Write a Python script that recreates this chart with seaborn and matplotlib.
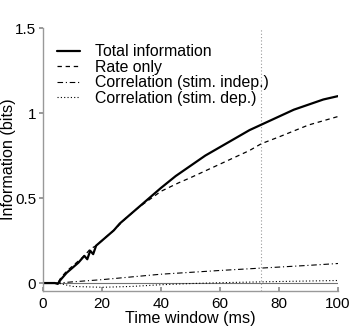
import numpy as np
import pandas as pd
import matplotlib
matplotlib.use("Agg")
import matplotlib.pyplot as plt
import seaborn as sns

# Data
time_total = [0, 2, 4, 5, 6, 8, 10, 12, 14, 15, 16, 17, 18, 20, 22, 24, 26, 28, 30, 32, 34, 36, 38, 40,
              45, 50, 55, 60, 65, 70, 75, 80, 85, 90, 95, 100]
total_info = [0, 0, 0, -0.005, 0.02, 0.06, 0.09, 0.12, 0.16, 0.14, 0.19, 0.17, 0.22, 0.25, 0.28, 0.31,
              0.35, 0.38, 0.41, 0.44, 0.47, 0.50, 0.53, 0.56, 0.63, 0.69, 0.75, 0.80, 0.85, 0.90, 0.94,
              0.98, 1.02, 1.05, 1.08, 1.10]

time_rate = [0, 2, 4, 5, 6, 8, 10, 12, 14, 16, 18, 20, 24, 28, 32, 36, 40, 46, 50, 60, 70, 74, 80, 90, 100]
rate_only = [0, 0, 0, 0.0, 0.03, 0.07, 0.10, 0.13, 0.16, 0.20, 0.22, 0.25, 0.31, 0.38, 0.44, 0.49,
             0.54, 0.59, 0.62, 0.70, 0.78, 0.82, 0.86, 0.93, 0.98]

time_corr = [0, 2, 4, 5, 10, 20, 30, 40, 50, 60, 74, 80, 90, 100]
corr_indep = [0, 0, 0, 0.0, 0.007, 0.02, 0.036, 0.052, 0.063, 0.074, 0.088, 0.094, 0.104, 0.115]
corr_dep = [0, 0, 0, 0.0, -0.02, -0.025, -0.02, -0.01, -0.003, 0.002, 0.007, 0.009, 0.012, 0.015]

marker_time = 74
x_ticks = [0, 20, 40, 60, 80, 100]
y_ticks = [0, 0.5, 1, 1.5]
y_tick_labels = ["0", "0.5", "1", "1.5"]

sns.set_theme(style="white")
plt.rcParams["font.family"] = ["Liberation Sans", "DejaVu Sans"]
plt.rcParams["text.color"] = "black"
plt.rcParams["axes.labelcolor"] = "black"

fig = plt.figure(figsize=(3.54, 3.27), dpi=100)
ax = fig.add_axes([0.1215, 0.110, 0.8335, 0.804])

ax.axhline(0, color="0.45", lw=0.8, zorder=1)
ax.axvline(marker_time, color="0.6", lw=0.8, ls=(0, (1, 2)), zorder=1)

sns.lineplot(x=time_total, y=total_info, ax=ax, color="black", lw=1.6, label="Total information")
sns.lineplot(x=time_rate, y=rate_only, ax=ax, color="black", lw=0.9, ls=(0, (3.5, 3)), label="Rate only")
sns.lineplot(x=time_corr, y=corr_indep, ax=ax, color="black", lw=0.8, ls=(0, (5, 2.5, 1, 2.5)),
             label="Correlation (stim. indep.)")
sns.lineplot(x=time_corr, y=corr_dep, ax=ax, color="black", lw=0.8, ls=(0, (1, 2)),
             label="Correlation (stim. dep.)")

ax.set_xlim(0, 100)
ax.set_ylim(-0.047, 1.5)
ax.set_xticks(x_ticks)
ax.set_yticks(y_ticks)
ax.set_yticklabels(y_tick_labels)
ax.tick_params(axis="both", length=3, color="0.55", labelsize=11, pad=3,
               bottom=True, left=True, labelcolor="black")
ax.tick_params(axis="x", direction="in", pad=4)
ax.tick_params(axis="y", direction="out", pad=2)
for s in ["top", "right"]:
    ax.spines[s].set_visible(False)
for s in ["left", "bottom"]:
    ax.spines[s].set_color("0.6")
    ax.spines[s].set_linewidth(1.0)

ax.set_xlabel("Time window (ms)", fontsize=11.6, labelpad=0)
ax.set_ylabel("Information (bits)", fontsize=11.6)
ax.yaxis.set_label_coords(-0.09, 0.5)

leg = ax.legend(loc="upper left", bbox_to_anchor=(0.026, 0.962), frameon=False, fontsize=11.4,
                handlelength=1.45, handletextpad=0.95, labelspacing=0.03, borderaxespad=0)

fig.savefig("out.png", dpi=100)
